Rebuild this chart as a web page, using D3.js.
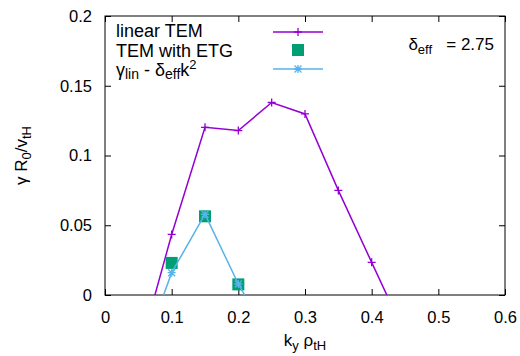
<!DOCTYPE html>
<html>
<head>
<meta charset="utf-8">
<script src="https://cdn.jsdelivr.net/npm/d3@7"></script>
<style>
	body { margin: 0; background: #fff; }
	svg { font-family: "Liberation Sans", Arial, sans-serif; }
	.tick text { font-size: 16.5px; fill: #000; }
	.domain { display: none; }
</style>
</head>
<body>
<svg id="viz" width="520" height="356"></svg>
<script>

// k_y rho_tH values and growth rates
const kLinear = [0.05, 0.1, 0.15, 0.2, 0.25, 0.3, 0.35, 0.4, 0.45];
const gLinear = [-0.043, 0.0434, 0.1202, 0.1179, 0.138, 0.1298, 0.075, 0.0234, -0.028];

const kEtg = [0.1, 0.15, 0.2];
const gEtg = [0.023, 0.0564, 0.0076];

const kCorr = [0.05, 0.1, 0.15, 0.2, 0.25];
const gCorr = [-0.05, 0.016, 0.0579, 0.0079, -0.034];

const xTicks = [0, 0.1, 0.2, 0.3, 0.4, 0.5, 0.6];
const yTicks = [0, 0.05, 0.1, 0.15, 0.2];

const colors = { linear: "#9400d3", etg: "#009e73", corr: "#56b4e9" };

let drawEverything = function() {

	const margin = {
		top:	16,
		right:	15,
		bottom:	61, // room for x-axis labels
		left:	105	// room for y-axis labels
	};

	let svg = d3.select("body").select("svg#viz");
	let plotWidth = 520 - margin.left - margin.right;
	let plotHeight = 356 - margin.top - margin.bottom;

	let xScale = d3.scaleLinear().domain([0, 0.6]).range([0, plotWidth]);
	let yScale = d3.scaleLinear().domain([0, 0.2]).range([plotHeight, 0]);

	let plot = svg.append("g")
		.attr("transform", `translate(${margin.left}, ${margin.top})`);

	svg.append("defs").append("clipPath").attr("id", "clip")
		.append("rect").attr("width", plotWidth).attr("height", plotHeight);

	// axes, gnuplot style: ticks point inward and are mirrored
	let fmt = d => d === 0 ? "0" : String(d);

	let xAxis = plot.append("g")
		.attr("transform", "translate(0," + plotHeight + ")")
		.call(d3.axisBottom(xScale).tickValues(xTicks).tickFormat(fmt).tickSize(-6).tickPadding(16));
	xAxis.selectAll(".tick text").attr("dy", "0.71em");

	plot.append("g")
		.call(d3.axisTop(xScale).tickValues(xTicks).tickFormat("").tickSize(-6));

	plot.append("g")
		.call(d3.axisLeft(yScale).tickValues(yTicks).tickFormat(fmt).tickSize(-6).tickPadding(13));

	plot.append("g")
		.attr("transform", `translate(${plotWidth},0)`)
		.call(d3.axisRight(yScale).tickValues(yTicks).tickFormat("").tickSize(-6));

	plot.selectAll(".tick line").attr("stroke", "#000");

	plot.append("rect")
		.attr("width", plotWidth)
		.attr("height", plotHeight)
		.attr("fill", "none")
		.attr("stroke", "#000")
		.attr("stroke-width", 1);

	// data
	let line = d3.line().x(d => xScale(d[0])).y(d => yScale(d[1]));
	let clipped = plot.append("g").attr("clip-path", "url(#clip)");

	let linPts = d3.zip(kLinear, gLinear);
	let etgPts = d3.zip(kEtg, gEtg);
	let corrPts = d3.zip(kCorr, gCorr);

	clipped.append("path")
		.attr("d", line(linPts))
		.attr("fill", "none")
		.attr("stroke", colors.linear)
		.attr("stroke-width", 1.5);

	let plus = (g, x, y, c) => {
		g.append("path")
			.attr("d", `M${x - 4},${y}H${x + 4}M${x},${y - 4}V${y + 4}`)
			.attr("stroke", c).attr("stroke-width", 1.3);
	};
	let star = (g, x, y, c) => {
		g.append("path")
			.attr("d", `M${x - 4},${y}H${x + 4}M${x},${y - 4}V${y + 4}M${x - 3.5},${y - 3.5}L${x + 3.5},${y + 3.5}M${x - 3.5},${y + 3.5}L${x + 3.5},${y - 3.5}`)
			.attr("stroke", c).attr("stroke-width", 1.3);
	};

	linPts.forEach(d => plus(clipped, xScale(d[0]), yScale(d[1]), colors.linear));

	clipped.selectAll("rect.etg")
		.data(etgPts)
		.enter().append("rect")
		.attr("class", "etg")
		.attr("x", d => xScale(d[0]) - 6)
		.attr("y", d => yScale(d[1]) - 6)
		.attr("width", 12)
		.attr("height", 12)
		.attr("fill", colors.etg);

	clipped.append("path")
		.attr("d", line(corrPts))
		.attr("fill", "none")
		.attr("stroke", colors.corr)
		.attr("stroke-width", 1.5);

	corrPts.forEach(d => star(clipped, xScale(d[0]), yScale(d[1]), colors.corr));

	// legend
	let legend = svg.append("g").attr("font-size", 18);

	legend.append("text").attr("x", 116).attr("y", 37).text("linear TEM");
	legend.append("text").attr("x", 116).attr("y", 56.5).text("TEM with ETG");
	let gt = legend.append("text").attr("x", 116).attr("y", 76);
	gt.append("tspan").text("γ");
	gt.append("tspan").attr("font-size", 14).attr("dy", 3).text("lin");
	gt.append("tspan").attr("dy", -3).text(" - δ");
	gt.append("tspan").attr("font-size", 14).attr("dy", 3).text("eff");
	gt.append("tspan").attr("dy", -3).text("k");
	gt.append("tspan").attr("font-size", 13).attr("dy", -7).text("2");

	legend.append("line").attr("x1", 273).attr("x2", 323).attr("y1", 32).attr("y2", 32)
		.attr("stroke", colors.linear).attr("stroke-width", 1.5);
	plus(legend, 298, 32, colors.linear);
	legend.append("rect").attr("x", 292).attr("y", 44).attr("width", 12).attr("height", 12)
		.attr("fill", colors.etg);
	legend.append("line").attr("x1", 273).attr("x2", 323).attr("y1", 69).attr("y2", 69)
		.attr("stroke", colors.corr).attr("stroke-width", 1.5);
	star(legend, 298, 69, colors.corr);

	// delta_eff annotation
	let ann = svg.append("text").attr("x", 494).attr("y", 50)
		.attr("text-anchor", "end").attr("font-size", 17)
		.attr("xml:space", "preserve");
	ann.append("tspan").text("δ");
	ann.append("tspan").attr("font-size", 13).attr("dy", 4).text("eff");
	ann.append("tspan").attr("dy", -4).text("   = 2.75");

	// axis titles
	let xt = svg.append("text")
		.attr("x", margin.left + plotWidth / 2).attr("y", 346)
		.attr("text-anchor", "middle").attr("font-size", 17);
	xt.append("tspan").text("k");
	xt.append("tspan").attr("font-size", 13).attr("dy", 4).text("y");
	xt.append("tspan").attr("dy", -4).text(" ρ");
	xt.append("tspan").attr("font-size", 13).attr("dy", 4).text("tH");

	let yt = svg.append("text")
		.attr("transform", `translate(27, ${margin.top + plotHeight / 2}) rotate(-90)`)
		.attr("text-anchor", "middle").attr("font-size", 17);
	yt.append("tspan").text("γ R");
	yt.append("tspan").attr("font-size", 13).attr("dy", 4).text("0");
	yt.append("tspan").attr("dy", -4).text("/v");
	yt.append("tspan").attr("font-size", 13).attr("dy", 4).text("tH");
};

drawEverything();
</script>
</body>
</html>
